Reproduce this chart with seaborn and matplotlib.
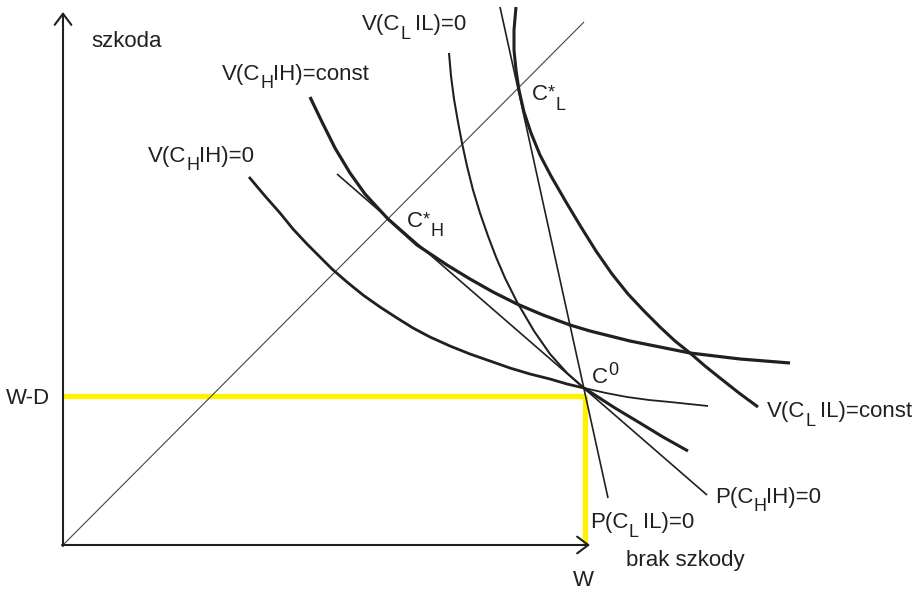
import numpy as np
import pandas as pd
import matplotlib
matplotlib.use("Agg")
import matplotlib.pyplot as plt
import seaborn as sns

# --- dane (jednostki: odleglosc od poczatku ukladu) ---
# krzywa obojetnosci typu H, V(C_H|H)=0 (przed i za C0)
vh0_x = [186, 202, 217, 230, 244, 257, 269, 284, 300, 317, 334, 350, 367,
         387, 407, 427, 447, 467, 487, 504, 521]
vh0_y = [368, 349, 332, 316, 301, 288, 276, 263, 250, 238, 227, 217, 208,
         199, 191, 184, 177, 171, 166, 161, 157]
vh0b_x = [521, 543, 564, 586, 607, 626, 645]
vh0b_y = [157, 152, 148, 145, 143, 141, 139]

# V(C_H|H)=const
vhc_x = [247, 259, 272, 287, 302, 325, 354, 384, 407, 430, 454, 480, 507,
         527, 547, 567, 587, 607, 627, 652, 677, 702, 727]
vhc_y = [448, 423, 397, 372, 351, 326, 300, 280, 266, 253, 241, 230, 220,
         214, 209, 204, 200, 196, 192, 189, 186, 184, 182]

# V(C_L|L)=0 (przed i za C0)
vl0_x = [386, 388, 391, 395, 399, 404, 410, 417, 425, 433, 442, 454, 471,
         487, 504, 521]
vl0_y = [492, 469, 446, 423, 402, 379, 355, 332, 309, 288, 267, 243, 214,
         191, 172, 157]
vl0b_x = [521, 552, 577, 600, 625]
vl0b_y = [157, 137, 122, 108, 94]

# V(C_L|L)=const
vlc_x = [453, 451, 451, 453, 456, 461, 468, 477, 488, 503, 518, 533, 549,
         565, 581, 597, 612, 627, 642, 657, 676, 695]
vlc_y = [538, 515, 495, 475, 455, 433, 412, 390, 369, 343, 318, 294, 271,
         251, 234, 218, 204, 192, 179, 167, 152, 138]

# proste zerowego zysku
ph_x = [274, 644]
ph_y = [371, 50]
pl_x = [437, 545]
pl_y = [538, 47]

# linia pewnosci (45 stopni)
diag_x = [0, 521]
diag_y = [0, 523]

W = 522
WD = 149

ink = "#231f20"

sns.set_theme(style="white")
plt.rcParams["font.family"] = ["Liberation Sans", "DejaVu Sans"]

fig = plt.figure(figsize=(9.2, 5.9), dpi=100)
ax = fig.add_axes([0, 0, 1, 1])
ax.set_xlim(-63, 857)
ax.set_ylim(-45, 545)
ax.axis("off")


def curve(xs, ys, lw, color=ink):
    sns.lineplot(x=xs, y=ys, ax=ax, color=color, lw=lw, sort=False,
                 estimator=None, solid_capstyle="butt",
                 solid_joinstyle="round", legend=False)


# zolte linie W-D i W
curve([0, W], [WD, WD], 3.8, "#fff200")
curve([W, W], [WD, 0], 3.8, "#fff200")

curve(diag_x, diag_y, 0.8, "#444444")
curve(ph_x, ph_y, 1.2)
curve(pl_x, pl_y, 1.2)
curve(vh0_x, vh0_y, 2.0)
curve(vh0b_x, vh0b_y, 1.3)
curve(vl0_x, vl0_y, 1.5)
curve(vl0b_x, vl0b_y, 2.2)
curve(vhc_x, vhc_y, 2.3)
curve(vlc_x, vlc_y, 2.2)

# osie ze strzalkami
arrow = dict(arrowstyle="->,head_length=0.4,head_width=0.3", color=ink,
             lw=1.5, mutation_scale=20, shrinkA=0, shrinkB=0)
ax.annotate("", xy=(0, 533), xytext=(0, -1), arrowprops=arrow)
ax.annotate("", xy=(527, 0), xytext=(-1, 0), arrowprops=arrow)

FS = 16
SFS = 13


def label(x, y, parts):
    # parts: (tekst, przesuniecie pionowe w pt, mniejsza czcionka?, odstep)
    prev = None
    for s, dy, small, gap in parts:
        fs = SFS if small else FS
        if prev is None:
            prev = ax.text(x, y, s, fontsize=fs, color=ink, va="baseline",
                           ha="left")
        else:
            prev = ax.annotate(s, xy=(1, y), xycoords=(prev, "data"),
                               xytext=(gap, dy), textcoords="offset points",
                               fontsize=fs, color=ink, va="baseline",
                               ha="left")


label(28, 498, [("szkoda", 0, False, 0)])
label(159, 465, [("V(C", 0, False, 0), ("H", -5.5, True, 0),
                 ("IH)=const", 0, False, 0)])
label(85, 383, [("V(C", 0, False, 0), ("H", -5.5, True, 0),
                ("IH)=0", 0, False, 0)])
label(299, 515, [("V(C", 0, False, 0), ("L", -6.5, True, 0),
                 ("IL)=0", 0, False, 3.5)])
label(344, 318, [("C", 0, False, 0), ("*", 1.5, True, 0),
                 ("H", -6.5, True, 0)])
label(469, 445, [("C", 0, False, 0), ("*", 1.5, True, 0),
                 ("L", -7, True, 0)])
label(529, 162, [("C", 0, False, 0), ("0", 6, True, 0)])
label(704, 128, [("V(C", 0, False, 0), ("L", -6.5, True, 0),
                 ("IL)=const", 0, False, 3.5)])
label(652, 42, [("P(C", 0, False, 0), ("H", -5.5, True, 0),
                ("IH)=0", 0, False, 0)])
label(527, 17, [("P(C", 0, False, 0), ("L", -6.5, True, 0),
                ("IL)=0", 0, False, 3.5)])
label(563, -21, [("brak szkody", 0, False, 0)])
label(510, -41, [("W", 0, False, 0)])
label(-57, 141, [("W-D", 0, False, 0)])

fig.savefig("out.png", dpi=100, facecolor="white")
